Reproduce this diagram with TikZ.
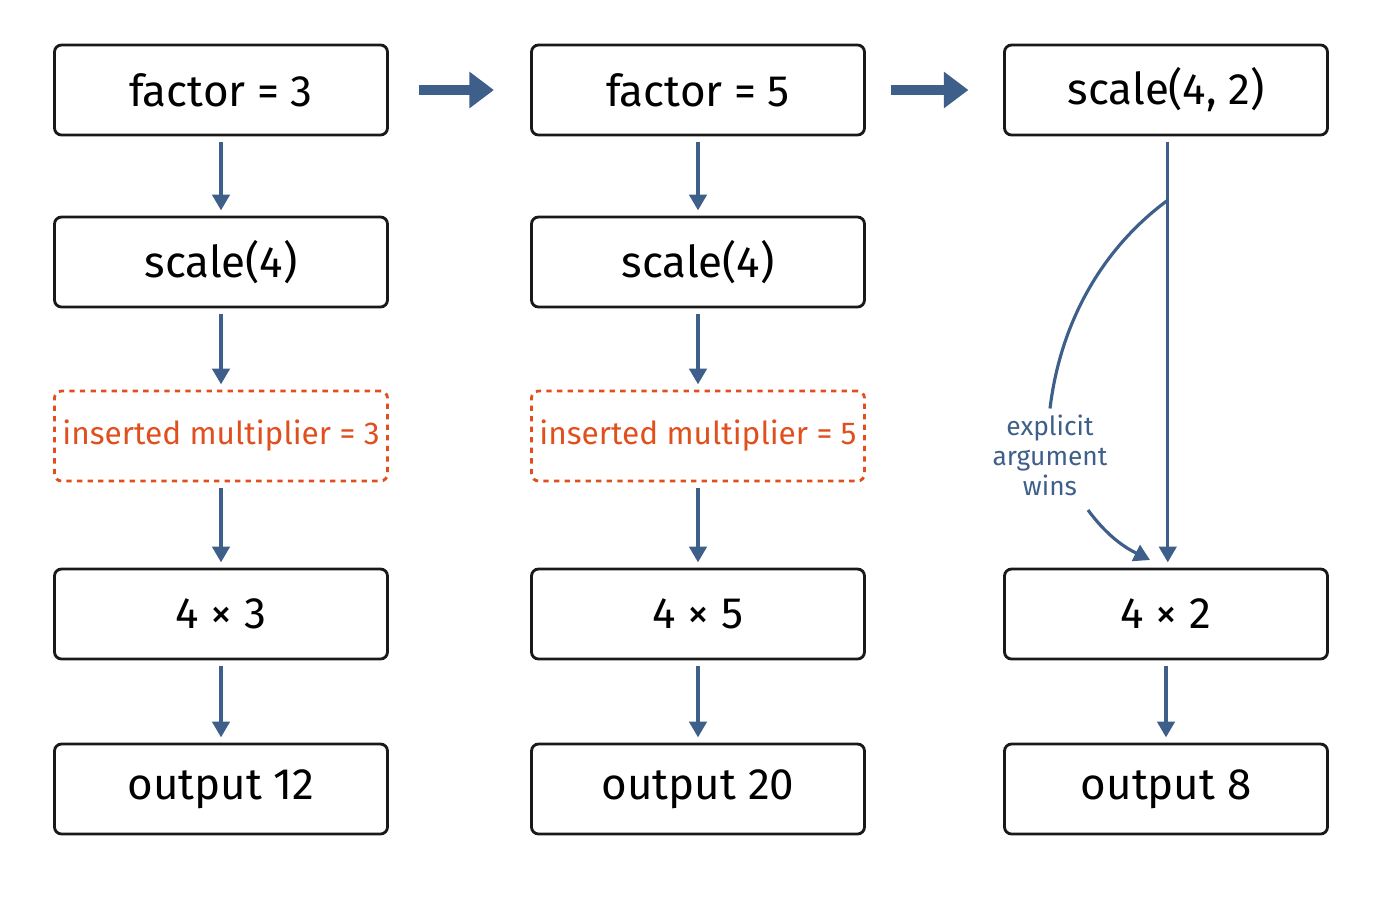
\documentclass[tikz,border=0pt]{standalone}
\usepackage{fontspec}
\setmainfont{Fira Sans}
\usetikzlibrary{positioning,arrows.meta}
\definecolor{steelblue}{HTML}{3E5F8A}
\definecolor{insertorange}{HTML}{E0501E}
\tikzstyle{stepbox}=[rectangle, rounded corners=4pt, draw=black!90, line width=1.6pt, minimum width=6.66cm, minimum height=1.8cm, inner sep=0pt, font=\fontsize{25}{30}\selectfont]
\tikzstyle{insertbox}=[stepbox, draw=insertorange, dashed, text=insertorange, font=\fontsize{18}{22}\selectfont]
\tikzstyle{flow}=[-{Triangle[length=9pt,width=10pt]}, draw=steelblue, line width=1.8pt]
\tikzstyle{bigflow}=[-{Triangle[length=14pt,width=20pt]}, draw=steelblue, line width=6pt]

\begin{document}
\begin{tikzpicture}
\useasboundingbox (0,0) rectangle (28,-18);

% first column
\node[stepbox](factorA) at (4.42,-1.8){factor = 3};
\node[stepbox](scaleA) at (4.42,-5.24){scale(4)};
\node[insertbox](insertA) at (4.42,-8.72){inserted multiplier = 3};
\node[stepbox](multA) at (4.42,-12.28){4 × 3};
\node[stepbox](outA) at (4.42,-15.78){output 12};

% second column
\node[stepbox](factorB) at (13.96,-1.8){factor = 5};
\node[stepbox](scaleB) at (13.96,-5.24){scale(4)};
\node[insertbox](insertB) at (13.96,-8.72){inserted multiplier = 5};
\node[stepbox](multB) at (13.96,-12.28){4 × 5};
\node[stepbox](outB) at (13.96,-15.78){output 20};

% third column
\node[stepbox, minimum width=6.46cm](callC) at (23.32,-1.8){scale(4, 2)};
\node[stepbox, minimum width=6.46cm](multC) at (23.32,-12.28){4 × 2};
\node[stepbox, minimum width=6.46cm](outC) at (23.32,-15.78){output 8};
\node[text=steelblue, align=center, font=\fontsize{15}{17}\selectfont](wins) at (21,-9.1){explicit\\argument\\wins};

\path[bigflow] (factorA.east) ++(0.6,0) coordinate(ga) -- ++(1.5,0);
\path[bigflow] (factorB.east) ++(0.5,0) coordinate(gb) -- ++(1.55,0);

\foreach \col in {A,B}{
  \path[flow] ([yshift=-3pt]factor\col.south) -- ([yshift=3pt]scale\col.north);
  \path[flow] ([yshift=-3pt]scale\col.south) -- ([yshift=3pt]insert\col.north);
  \path[flow] ([yshift=-3pt]insert\col.south) -- ([yshift=3pt]mult\col.north);
  \path[flow] ([yshift=-3pt]mult\col.south) -- ([yshift=3pt]out\col.north);
}
\coordinate (branch) at (23.36,-4);
\path[flow] ([xshift=1pt,yshift=-3pt]callC.south) -- ([xshift=1pt,yshift=3pt]multC.north);
\path[draw=steelblue, line width=1.8pt] (branch) .. controls (22,-5) and (21.2,-6.5) .. (wins.north);
\path[flow] (21.76,-10.2) .. controls (22.2,-10.8) and (22.6,-11) .. (23.0,-11.2);
\path[flow] ([yshift=-3pt]multC.south) -- ([yshift=3pt]outC.north);

\end{tikzpicture}
\end{document}
